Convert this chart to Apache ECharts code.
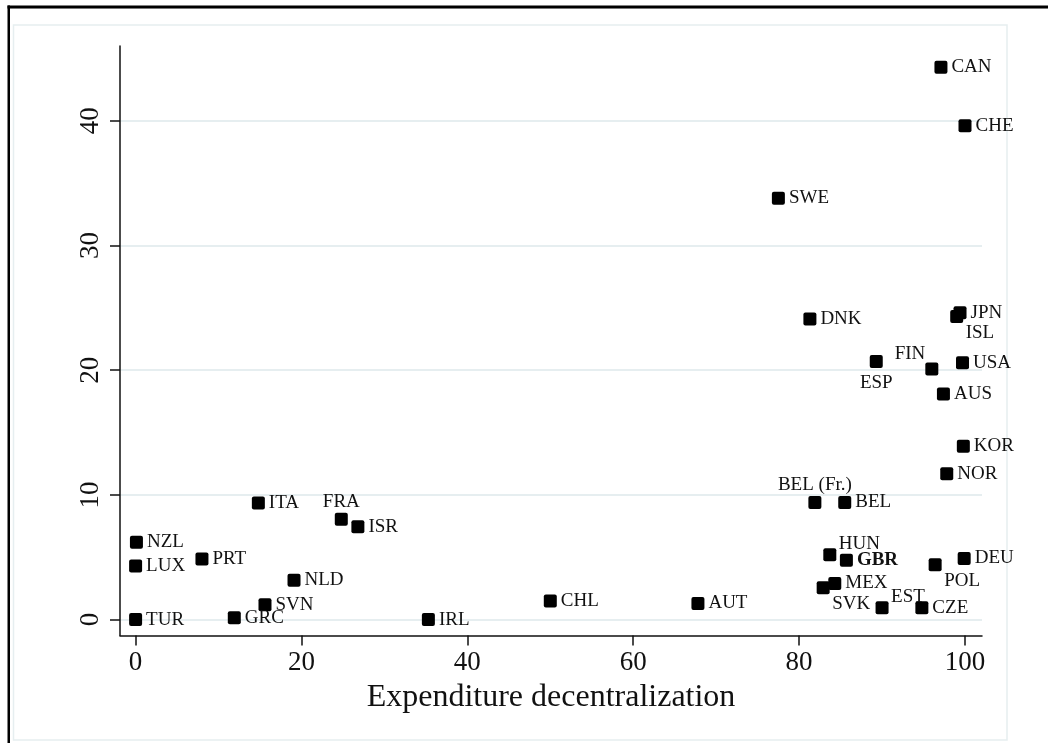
<!DOCTYPE html>
<html>
<head>
<meta charset="utf-8">
<script src="https://cdn.jsdelivr.net/npm/echarts@6/dist/echarts.min.js"></script>
<style>
  html, body { margin: 0; padding: 0; background: #fff; }
  #chart { width: 1048px; height: 743px; }
</style>
</head>
<body>
<div id="chart"></div>
<script>
// Country codes and their decentralization scores
const countries = ['CAN', 'CHE', 'SWE', 'DNK', 'JPN', 'ISL', 'ESP', 'FIN', 'USA', 'AUS',
  'KOR', 'NOR', 'BEL (Fr.)', 'BEL', 'HUN', 'GBR', 'MEX', 'SVK', 'EST', 'CZE',
  'POL', 'DEU', 'ITA', 'FRA', 'ISR', 'NZL', 'LUX', 'PRT', 'NLD', 'SVN',
  'TUR', 'GRC', 'IRL', 'CHL', 'AUT'];
const expenditure = [97.1, 100.0, 77.5, 81.3, 99.4, 99.0, 89.3, 96.0, 99.7, 97.4,
  99.8, 97.8, 81.9, 85.5, 83.7, 85.7, 84.3, 82.9, 90.0, 94.8,
  96.4, 99.9, 14.8, 24.8, 26.8, 0.1, 0.0, 8.0, 19.1, 15.6,
  0.0, 11.9, 35.3, 50.0, 67.8];
const revenue = [44.3, 39.6, 33.8, 24.1, 24.6, 24.3, 20.7, 20.1, 20.6, 18.1,
  13.9, 11.7, 9.4, 9.4, 5.2, 4.75, 2.9, 2.55, 0.95, 0.95,
  4.4, 4.9, 9.35, 8.05, 7.45, 6.2, 4.3, 4.85, 3.15, 1.2,
  0.0, 0.15, 0.0, 1.5, 1.3];
const xTicks = [0, 20, 40, 60, 80, 100];
const yTicks = [0, 10, 20, 30, 40];
const xTitle = 'Expenditure decentralization';

// Marker-label placement (clock-style), everything else sits to the right
const labelSpot = {
  'FIN': 'nw', 'ESP': 's', 'ISL': 'se', 'POL': 'se', 'SVK': 'se',
  'HUN': 'ne', 'EST': 'ne', 'FRA': 'n', 'BEL (Fr.)': 'n'
};
const boldLabels = { 'GBR': true };

const SERIF = '"Liberation Serif", "Times New Roman", serif';
const MARK = 13;

function labelFor(code) {
  const base = {
    show: true, formatter: code, fontFamily: SERIF, fontSize: 19, color: '#111',
    fontWeight: boldLabels[code] ? 'bold' : 'normal'
  };
  switch (labelSpot[code]) {
    case 'se': return Object.assign(base, { position: [15.5, 22.5], align: 'left', verticalAlign: 'middle' });
    case 'ne': return Object.assign(base, { position: [15.5, -4.5], align: 'left', verticalAlign: 'middle' });
    case 'nw': return Object.assign(base, { position: [0, -8.5], align: 'right', verticalAlign: 'middle' });
    case 's':  return Object.assign(base, { position: [6.5, 28], align: 'center', verticalAlign: 'middle' });
    case 'n':  return Object.assign(base, { position: [6.5, -10.5], align: 'center', verticalAlign: 'middle' });
    default:   return Object.assign(base, { position: 'right', distance: 4 });
  }
}

const points = countries.map((c, i) => ({
  name: c,
  value: [expenditure[i], revenue[i]],
  label: labelFor(c)
}));

const chart = echarts.init(document.getElementById('chart'), null, { renderer: 'canvas' });

chart.setOption({
  animation: false,
  backgroundColor: '#fff',
  grid: { left: 120, right: 66, top: 46, bottom: 107.5 },
  graphic: [
    // outer frame (top and left edges)
    { type: 'rect', z: -10, shape: { x: 7.5, y: 5.5, width: 1100, height: 2.5 }, style: { fill: '#000' } },
    { type: 'rect', z: -10, shape: { x: 7.5, y: 8, width: 1100, height: 1 }, style: { fill: '#777' } },
    { type: 'rect', z: -10, shape: { x: 7.5, y: 5.5, width: 2.5, height: 800 }, style: { fill: '#000' } },
    // inner graph region outline
    { type: 'rect', z: -10, shape: { x: 13.5, y: 25, width: 993.5, height: 715 },
      style: { fill: 'none', stroke: '#e6eef0', lineWidth: 1.5 } }
  ],
  xAxis: {
    type: 'value',
    min: -1.881, max: 102.05,
    axisLine: { show: true, onZero: false, lineStyle: { color: '#111', width: 1.5 } },
    axisTick: { show: true, customValues: xTicks, length: 10, lineStyle: { color: '#111', width: 1.5 } },
    axisLabel: { customValues: xTicks, fontFamily: SERIF, fontSize: 27, color: '#111', margin: 14 },
    splitLine: { show: false },
    name: xTitle, nameLocation: 'middle', nameGap: 40,
    nameTextStyle: { fontFamily: SERIF, fontSize: 32, color: '#111' }
  },
  yAxis: {
    type: 'value',
    min: -1.275, max: 46.0,
    axisLine: { show: true, onZero: false, lineStyle: { color: '#111', width: 1.5 } },
    axisTick: { show: true, customValues: yTicks, length: 10, lineStyle: { color: '#111', width: 1.5 } },
    axisLabel: { customValues: yTicks, rotate: 90, fontFamily: SERIF, fontSize: 27, color: '#111', margin: 16 },
    splitLine: { show: false }
  },
  series: [
    {
      // horizontal gridlines at the y ticks, kept beneath markers and labels
      type: 'line', data: [], z: 0, zlevel: 0, silent: true,
      markLine: {
        z: 0, silent: true, symbol: 'none', animation: false,
        label: { show: false },
        lineStyle: { color: '#e6eef0', width: 2, type: 'solid' },
        data: yTicks.map(v => ({ yAxis: v }))
      }
    },
    {
      type: 'scatter', z: 10,
      symbol: 'path://M2,0H11A2,2 0 0 1 13,2V11A2,2 0 0 1 11,13H2A2,2 0 0 1 0,11V2A2,2 0 0 1 2,0Z',
      symbolSize: MARK,
      itemStyle: { color: '#000', opacity: 1 },
      labelLayout: { hideOverlap: false },
      data: points
    }
  ]
});
</script>
</body>
</html>
